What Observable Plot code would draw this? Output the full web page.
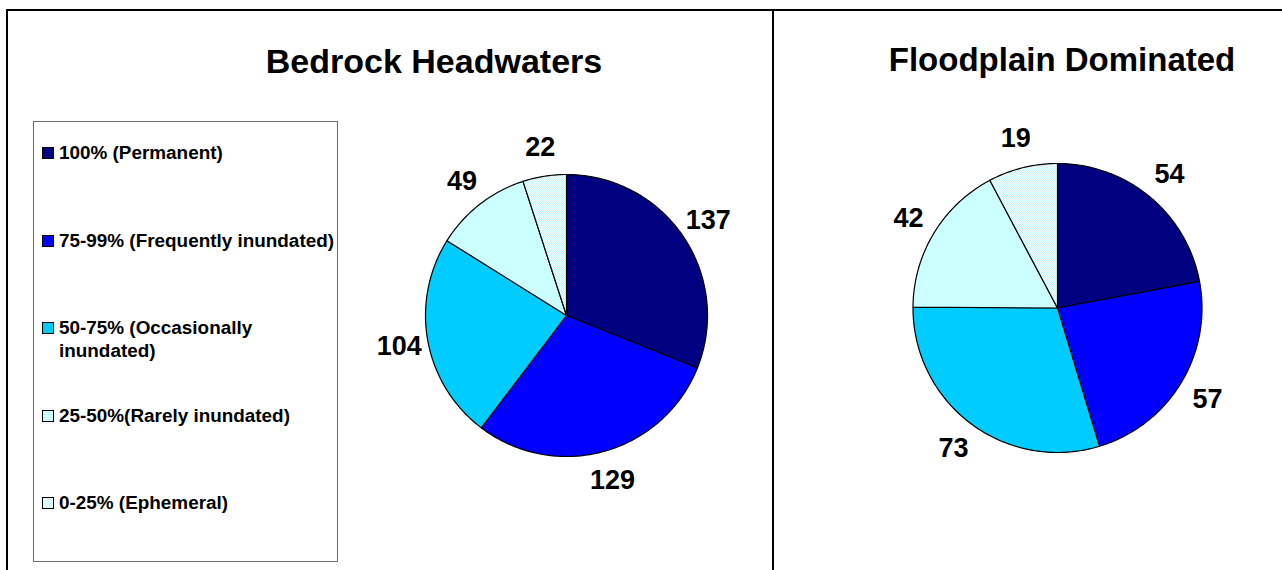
<!DOCTYPE html>
<html>
<head>
<meta charset="utf-8">
<script src="https://cdn.jsdelivr.net/npm/d3@7"></script>
<script src="https://cdn.jsdelivr.net/npm/@observablehq/plot@0.6"></script>
<style>
  html, body { margin: 0; padding: 0; background: #fff; }
  body { width: 1282px; height: 570px; position: relative; overflow: hidden;
         font-family: "Liberation Sans", Arial, sans-serif; color: #000; }
  .rule { position: absolute; background: #000; }
  .title { position: absolute; width: 600px; text-align: center; font-weight: bold;
           line-height: 34px; white-space: nowrap; }
  .legend { position: absolute; left: 33px; top: 121px; width: 305px; height: 441px;
            border: 1px solid #6b6b6b; box-sizing: border-box; }
  .legend-row { position: absolute; left: 8px; width: 292px; }
  .legend-row svg { position: absolute; left: 0; top: 6px; }
  .legend-row span { position: absolute; left: 17px; width: 278px; font-weight: bold;
                     font-size: 18.9px; line-height: 23px; }
  .pie { position: absolute; }
</style>
</head>
<body>
<!-- stipple used for the 0-25% slice -->
<svg width="0" height="0" style="position:absolute">
  <defs>
    <pattern id="ephemeral-dots" width="2" height="2" patternUnits="userSpaceOnUse">
      <rect width="2" height="2" fill="#ffffff"/>
      <rect x="0" y="0" width="1" height="1" fill="#c2f6ff"/>
      <rect x="1" y="1" width="1" height="1" fill="#c2f6ff"/>
    </pattern>
  </defs>
</svg>

<div class="rule" style="left:6px; top:9px; width:1276px; height:2px;"></div>
<div class="rule" style="left:6px; top:9px; width:2px; height:561px;"></div>
<div class="rule" style="left:772px; top:9px; width:2px; height:561px;"></div>

<div id="legend" class="legend"></div>

<script>
// Inundation classes, shared by both pies and the legend
const categories = [
  "100% (Permanent)",
  "75-99% (Frequently inundated)",
  "50-75% (Occasionally inundated)",
  "25-50%(Rarely inundated)",
  "0-25% (Ephemeral)"
];
const sliceColors = ["#000080", "#0000ff", "#00ccff", "#ccffff", "url(#ephemeral-dots)"];

// Reach counts per class
const bedrockCounts = [137, 129, 104, 49, 22];
const floodplainCounts = [54, 57, 73, 42, 19];

const panelTitles = ["Bedrock Headwaters", "Floodplain Dominated"];

const FONT = '"Liberation Sans", Arial, sans-serif';
const LABEL_RADIUS = 1.21;

// Turn counts into closed slice outlines (arc + centre) and label anchors, unit radius
function pieGeometry(counts) {
  const arcs = d3.pie().sort(null).startAngle(0).endAngle(2 * Math.PI)(counts);
  const rows = [];
  const labels = [];
  arcs.forEach((a, i) => {
    const steps = Math.max(2, Math.ceil((a.endAngle - a.startAngle) / (Math.PI / 180)));
    for (let k = 0; k <= steps; ++k) {
      const t = a.startAngle + (a.endAngle - a.startAngle) * k / steps;
      rows.push({cat: categories[i], x: Math.sin(t), y: Math.cos(t), cx: 0, cy: 0});
    }
    const mid = (a.startAngle + a.endAngle) / 2;
    labels.push({value: counts[i], x: Math.sin(mid) * LABEL_RADIUS, y: Math.cos(mid) * LABEL_RADIUS});
  });
  return {rows, labels};
}

function drawPie(counts, size, radius, cx, cy) {
  const {rows, labels} = pieGeometry(counts);
  const left = Math.round(cx - size / 2);
  const top = Math.round(cy - size / 2);
  // keep the centre where asked even after snapping the box to whole pixels
  const ox = (cx - left) / radius, oy = (cy - top) / radius;
  const chart = Plot.plot({
    width: size,
    height: size,
    margin: 0,
    x: {domain: [-ox, size / radius - ox], axis: null},
    y: {domain: [-(size / radius - oy), oy], axis: null},
    color: {type: "ordinal", domain: categories, range: sliceColors},
    style: {background: "transparent", overflow: "visible", fontFamily: FONT},
    marks: [
      Plot.area(rows, {x1: "x", y1: "y", x2: "cx", y2: "cy", z: "cat", fill: "cat",
                       stroke: "#000", strokeWidth: 1.2, strokeLinejoin: "round"}),
      Plot.text(labels, {x: "x", y: "y", text: "value", fontSize: 27, fontWeight: "bold",
                         fill: "#000", fontFamily: FONT})
    ]
  });
  chart.classList.add("pie");
  chart.style.left = left + "px";
  chart.style.top = top + "px";
  document.body.appendChild(chart);
}

function addTitle(text, centerX, top, size) {
  const el = document.createElement("div");
  el.className = "title";
  el.textContent = text;
  el.style.fontSize = size + "px";
  el.style.left = (centerX - 300) + "px";
  el.style.top = top + "px";
  document.body.appendChild(el);
}

addTitle(panelTitles[0], 434, 44, 34);
addTitle(panelTitles[1], 1062, 43, 33);

drawPie(bedrockCounts, 400, 141, 566.5, 315.5);
drawPie(floodplainCounts, 420, 144.5, 1057.5, 308);

// Legend: one row per class, evenly spaced down the box
const legend = document.getElementById("legend");
categories.forEach((name, i) => {
  const row = document.createElement("div");
  row.className = "legend-row";
  row.style.top = (19 + 87.5 * i) + "px";
  const sw = d3.create("svg").attr("width", 12).attr("height", 12);
  sw.append("rect").attr("x", 0.5).attr("y", 0.5).attr("width", 11).attr("height", 11)
    .attr("fill", sliceColors[i]).attr("stroke", "#000").attr("stroke-width", 1);
  row.appendChild(sw.node());
  const label = document.createElement("span");
  label.textContent = name;
  row.appendChild(label);
  legend.appendChild(row);
});
</script>
</body>
</html>
